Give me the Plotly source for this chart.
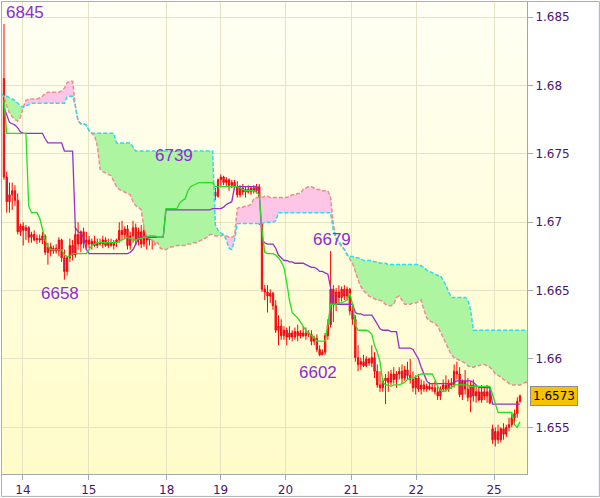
import plotly.graph_objects as go

# ---------------- data ----------------
day_tick_pos = [6.91, 30.91, 59.27, 78.91, 102.55, 126.55, 150.18, 178.55]
day_labels = ['14', '15', '18', '19', '20', '21', '22', '25']
price_ticks = [1.655, 1.660, 1.665, 1.670, 1.675, 1.680, 1.685]
price_labels = ['1.655', '1.66', '1.665', '1.67', '1.675', '1.68', '1.685']

open_ = [1.6805, 1.6733, 1.6715, 1.6720, 1.6723, 1.6716, 1.6693, 1.6697, 1.6694, 1.6696,
         1.6689, 1.6691, 1.6687, 1.6688, 1.6687, 1.6690, 1.6678, 1.6682, 1.6679, 1.6681,
         1.6679, 1.6687, 1.6674, 1.6664, 1.6674, 1.6683, 1.6676, 1.6691, 1.6684, 1.6693,
         1.6685, 1.6687, 1.6684, 1.6686, 1.6683, 1.6685, 1.6684, 1.6687, 1.6683, 1.6685,
         1.6683, 1.6685, 1.6687, 1.6694, 1.6691, 1.6695, 1.6683, 1.6690, 1.6696, 1.6687,
         1.6693, 1.6684, 1.6694, 1.6687, 1.6695, 1.6687, 1.6690, 1.6696, 1.6690, 1.6694,
         1.6731, 1.6716, 1.6719, 1.6716, 1.6719, 1.6718, 1.6729, 1.6730, 1.6732, 1.6729,
         1.6735, 1.6731, 1.6734, 1.6726, 1.6729, 1.6726, 1.6730, 1.6722, 1.6719, 1.6731,
         1.6733, 1.6729, 1.6731, 1.6727, 1.6729, 1.6726, 1.6720, 1.6725, 1.6722, 1.6724,
         1.6722, 1.6725, 1.6723, 1.6726, 1.6700, 1.6651, 1.6649, 1.6646, 1.6648, 1.6639,
         1.6621, 1.6624, 1.6617, 1.6621, 1.6616, 1.6619, 1.6616, 1.6620, 1.6617, 1.6619,
         1.6617, 1.6619, 1.6618, 1.6613, 1.6615, 1.6607, 1.6603, 1.6605, 1.6617, 1.6625,
         1.6651, 1.6640, 1.6649, 1.6645, 1.6651, 1.6646, 1.6651, 1.6635, 1.6629, 1.6601,
         1.6596, 1.6598, 1.6595, 1.6600, 1.6597, 1.6601, 1.6591, 1.6581, 1.6579, 1.6584,
         1.6586, 1.6583, 1.6589, 1.6585, 1.6589, 1.6591, 1.6586, 1.6592, 1.6588, 1.6585,
         1.6579, 1.6586, 1.6578, 1.6581, 1.6578, 1.6580, 1.6578, 1.6579, 1.6576, 1.6573,
         1.6578, 1.6581, 1.6578, 1.6582, 1.6581, 1.6591, 1.6589, 1.6574, 1.6584, 1.6578,
         1.6572, 1.6581, 1.6573, 1.6576, 1.6570, 1.6576, 1.6573, 1.6576, 1.6549, 1.6541,
         1.6547, 1.6541, 1.6549, 1.6545, 1.6550, 1.6552, 1.6557, 1.6560, 1.6569]

high = [1.6845, 1.6737, 1.6729, 1.6729, 1.6727, 1.6721, 1.6699, 1.6700, 1.6698, 1.6697,
        1.6693, 1.6694, 1.6691, 1.6691, 1.6693, 1.6691, 1.6685, 1.6685, 1.6683, 1.6684,
        1.6689, 1.6688, 1.6680, 1.6675, 1.6688, 1.6687, 1.6697, 1.6700, 1.6694, 1.6696,
        1.6693, 1.6690, 1.6688, 1.6690, 1.6688, 1.6688, 1.6690, 1.6689, 1.6688, 1.6688,
        1.6687, 1.6688, 1.6700, 1.6701, 1.6697, 1.6698, 1.6693, 1.6701, 1.6699, 1.6696,
        1.6698, 1.6700, 1.6700, 1.6700, 1.6699, 1.6696, 1.6698, 1.6699, 1.6697, 1.6739,
        1.6734, 1.6723, 1.6725, 1.6722, 1.6723, 1.6731, 1.6733, 1.6734, 1.6737, 1.6738,
        1.6738, 1.6737, 1.6737, 1.6734, 1.6735, 1.6737, 1.6734, 1.6725, 1.6732, 1.6735,
        1.6734, 1.6733, 1.6732, 1.6731, 1.6731, 1.6730, 1.6727, 1.6728, 1.6726, 1.6727,
        1.6726, 1.6727, 1.6728, 1.6728, 1.6701, 1.6654, 1.6654, 1.6651, 1.6649, 1.6643,
        1.6632, 1.6629, 1.6624, 1.6623, 1.6624, 1.6621, 1.6623, 1.6625, 1.6621, 1.6624,
        1.6623, 1.6621, 1.6621, 1.6617, 1.6618, 1.6610, 1.6607, 1.6619, 1.6629, 1.6679,
        1.6654, 1.6652, 1.6654, 1.6653, 1.6654, 1.6653, 1.6652, 1.6640, 1.6632, 1.6610,
        1.6601, 1.6603, 1.6602, 1.6601, 1.6610, 1.6605, 1.6596, 1.6591, 1.6586, 1.6589,
        1.6591, 1.6592, 1.6594, 1.6591, 1.6594, 1.6596, 1.6595, 1.6598, 1.6600, 1.6591,
        1.6588, 1.6589, 1.6585, 1.6584, 1.6582, 1.6583, 1.6582, 1.6584, 1.6581, 1.6580,
        1.6585, 1.6588, 1.6585, 1.6586, 1.6596, 1.6598, 1.6594, 1.6585, 1.6592, 1.6586,
        1.6584, 1.6585, 1.6581, 1.6579, 1.6581, 1.6579, 1.6581, 1.6579, 1.6552, 1.6550,
        1.6552, 1.6550, 1.6553, 1.6552, 1.6557, 1.6560, 1.6563, 1.6572, 1.6574]

low = [1.6731, 1.6707, 1.6707, 1.6709, 1.6712, 1.6691, 1.6690, 1.6683, 1.6687, 1.6685,
       1.6685, 1.6686, 1.6684, 1.6685, 1.6684, 1.6676, 1.6669, 1.6675, 1.6677, 1.6677,
       1.6675, 1.6671, 1.6658, 1.6661, 1.6671, 1.6672, 1.6674, 1.6680, 1.6678, 1.6681,
       1.6680, 1.6681, 1.6680, 1.6682, 1.6681, 1.6683, 1.6681, 1.6682, 1.6681, 1.6682,
       1.6680, 1.6682, 1.6685, 1.6687, 1.6688, 1.6680, 1.6680, 1.6685, 1.6683, 1.6683,
       1.6681, 1.6682, 1.6680, 1.6683, 1.6680, 1.6683, 1.6685, 1.6687, 1.6687, 1.6693,
       1.6714, 1.6712, 1.6714, 1.6713, 1.6715, 1.6716, 1.6723, 1.6726, 1.6728, 1.6727,
       1.6729, 1.6726, 1.6723, 1.6722, 1.6723, 1.6716, 1.6712, 1.6716, 1.6718, 1.6726,
       1.6727, 1.6726, 1.6723, 1.6725, 1.6724, 1.6718, 1.6718, 1.6720, 1.6718, 1.6721,
       1.6720, 1.6721, 1.6721, 1.6698, 1.6649, 1.6643, 1.6634, 1.6641, 1.6636, 1.6619,
       1.6610, 1.6614, 1.6614, 1.6610, 1.6614, 1.6613, 1.6614, 1.6613, 1.6615, 1.6616,
       1.6614, 1.6616, 1.6610, 1.6610, 1.6605, 1.6602, 1.6603, 1.6603, 1.6614, 1.6623,
       1.6627, 1.6635, 1.6640, 1.6642, 1.6643, 1.6643, 1.6632, 1.6625, 1.6598, 1.6591,
       1.6592, 1.6594, 1.6594, 1.6595, 1.6594, 1.6586, 1.6579, 1.6576, 1.6576, 1.6567,
       1.6576, 1.6581, 1.6582, 1.6579, 1.6585, 1.6582, 1.6584, 1.6585, 1.6582, 1.6576,
       1.6574, 1.6576, 1.6574, 1.6576, 1.6576, 1.6577, 1.6576, 1.6574, 1.6570, 1.6570,
       1.6576, 1.6576, 1.6576, 1.6578, 1.6579, 1.6585, 1.6572, 1.6570, 1.6574, 1.6569,
       1.6561, 1.6569, 1.6568, 1.6569, 1.6568, 1.6570, 1.6568, 1.6567, 1.6538, 1.6536,
       1.6538, 1.6539, 1.6541, 1.6543, 1.6547, 1.6550, 1.6552, 1.6557, 1.6568]

close = [1.6733, 1.6715, 1.6720, 1.6723, 1.6716, 1.6693, 1.6697, 1.6694, 1.6696, 1.6689,
         1.6691, 1.6687, 1.6688, 1.6687, 1.6690, 1.6678, 1.6682, 1.6679, 1.6681, 1.6679,
         1.6687, 1.6674, 1.6664, 1.6674, 1.6683, 1.6676, 1.6691, 1.6684, 1.6693, 1.6685,
         1.6687, 1.6684, 1.6686, 1.6683, 1.6685, 1.6684, 1.6687, 1.6683, 1.6685, 1.6683,
         1.6685, 1.6687, 1.6694, 1.6691, 1.6695, 1.6683, 1.6690, 1.6696, 1.6687, 1.6693,
         1.6684, 1.6694, 1.6687, 1.6695, 1.6687, 1.6690, 1.6696, 1.6690, 1.6694, 1.6731,
         1.6716, 1.6719, 1.6716, 1.6719, 1.6718, 1.6729, 1.6730, 1.6732, 1.6729, 1.6735,
         1.6731, 1.6734, 1.6726, 1.6729, 1.6726, 1.6730, 1.6722, 1.6719, 1.6731, 1.6733,
         1.6729, 1.6731, 1.6727, 1.6729, 1.6726, 1.6720, 1.6725, 1.6722, 1.6724, 1.6722,
         1.6725, 1.6723, 1.6726, 1.6700, 1.6651, 1.6649, 1.6646, 1.6648, 1.6639, 1.6621,
         1.6624, 1.6617, 1.6621, 1.6616, 1.6619, 1.6616, 1.6620, 1.6617, 1.6619, 1.6617,
         1.6619, 1.6618, 1.6613, 1.6615, 1.6607, 1.6603, 1.6605, 1.6617, 1.6625, 1.6651,
         1.6640, 1.6649, 1.6645, 1.6651, 1.6646, 1.6651, 1.6635, 1.6629, 1.6601, 1.6596,
         1.6598, 1.6595, 1.6600, 1.6597, 1.6601, 1.6591, 1.6581, 1.6579, 1.6584, 1.6586,
         1.6583, 1.6589, 1.6585, 1.6589, 1.6591, 1.6586, 1.6592, 1.6588, 1.6585, 1.6579,
         1.6586, 1.6578, 1.6581, 1.6578, 1.6580, 1.6578, 1.6579, 1.6576, 1.6573, 1.6578,
         1.6581, 1.6578, 1.6582, 1.6581, 1.6591, 1.6589, 1.6574, 1.6584, 1.6578, 1.6572,
         1.6581, 1.6573, 1.6576, 1.6570, 1.6576, 1.6573, 1.6576, 1.6568, 1.6541, 1.6547,
         1.6541, 1.6549, 1.6545, 1.6550, 1.6552, 1.6557, 1.6560, 1.6569, 1.6573]

tenkan = [1.6789, 1.6765, 1.6765, 1.6765, 1.6765, 1.6765, 1.6765, 1.6765, 1.6765, 1.6712,
          1.6707, 1.6707, 1.6707, 1.6703, 1.6694, 1.6687, 1.6682, 1.6680, 1.6680, 1.6680,
          1.6680, 1.6680, 1.6676, 1.6675, 1.6675, 1.6677, 1.6677, 1.6677, 1.6677, 1.6677,
          1.6677, 1.6680, 1.6683, 1.6684, 1.6685, 1.6685, 1.6685, 1.6685, 1.6685, 1.6685,
          1.6685, 1.6685, 1.6686, 1.6687, 1.6688, 1.6689, 1.6688, 1.6687, 1.6687, 1.6688,
          1.6688, 1.6689, 1.6689, 1.6690, 1.6690, 1.6690, 1.6689, 1.6689, 1.6689, 1.6710,
          1.6710, 1.6710, 1.6710, 1.6710, 1.6714, 1.6716, 1.6717, 1.6723, 1.6726, 1.6727,
          1.6728, 1.6729, 1.6729, 1.6729, 1.6729, 1.6729, 1.6729, 1.6726, 1.6726, 1.6726,
          1.6726, 1.6726, 1.6726, 1.6726, 1.6726, 1.6726, 1.6725, 1.6724, 1.6723, 1.6723,
          1.6723, 1.6723, 1.6722, 1.6720, 1.6694, 1.6678, 1.6677, 1.6677, 1.6677, 1.6676,
          1.6674, 1.6671, 1.6667, 1.6656, 1.6643, 1.6634, 1.6632, 1.6630, 1.6627, 1.6624,
          1.6621, 1.6619, 1.6617, 1.6616, 1.6613, 1.6613, 1.6613, 1.6613, 1.6625, 1.6640,
          1.6640, 1.6640, 1.6641, 1.6641, 1.6642, 1.6643, 1.6648, 1.6640, 1.6625, 1.6621,
          1.6621, 1.6621, 1.6621, 1.6620, 1.6618, 1.6610, 1.6605, 1.6598, 1.6583, 1.6581,
          1.6581, 1.6580, 1.6581, 1.6581, 1.6581, 1.6582, 1.6583, 1.6585, 1.6586, 1.6586,
          1.6587, 1.6588, 1.6589, 1.6589, 1.6589, 1.6589, 1.6589, 1.6585, 1.6580, 1.6577,
          1.6576, 1.6577, 1.6578, 1.6579, 1.6581, 1.6581, 1.6581, 1.6581, 1.6581, 1.6581,
          1.6580, 1.6580, 1.6580, 1.6580, 1.6580, 1.6580, 1.6580, 1.6580, 1.6574, 1.6568,
          1.6561, 1.6561, 1.6561, 1.6561, 1.6561, 1.6561, 1.6552, 1.6550, 1.6554]

kijun = [1.6784, 1.6778, 1.6773, 1.6772, 1.6771, 1.6769, 1.6766, 1.6765, 1.6765, 1.6765,
         1.6765, 1.6765, 1.6765, 1.6765, 1.6765, 1.6761, 1.6758, 1.6758, 1.6758, 1.6758,
         1.6758, 1.6758, 1.6752, 1.6752, 1.6752, 1.6752, 1.6696, 1.6693, 1.6692, 1.6689,
         1.6680, 1.6677, 1.6677, 1.6677, 1.6677, 1.6677, 1.6677, 1.6677, 1.6677, 1.6677,
         1.6677, 1.6677, 1.6677, 1.6677, 1.6677, 1.6677, 1.6678, 1.6680, 1.6684, 1.6688,
         1.6689, 1.6689, 1.6689, 1.6689, 1.6689, 1.6689, 1.6689, 1.6689, 1.6689, 1.6709,
         1.6709, 1.6709, 1.6709, 1.6709, 1.6709, 1.6709, 1.6709, 1.6709, 1.6709, 1.6709,
         1.6709, 1.6709, 1.6709, 1.6709, 1.6709, 1.6709, 1.6710, 1.6710, 1.6710, 1.6710,
         1.6711, 1.6713, 1.6714, 1.6715, 1.6726, 1.6726, 1.6726, 1.6726, 1.6726, 1.6726,
         1.6726, 1.6726, 1.6726, 1.6723, 1.6687, 1.6685, 1.6684, 1.6684, 1.6684, 1.6681,
         1.6676, 1.6674, 1.6672, 1.6672, 1.6671, 1.6671, 1.6670, 1.6670, 1.6670, 1.6670,
         1.6669, 1.6668, 1.6667, 1.6667, 1.6666, 1.6664, 1.6664, 1.6663, 1.6662, 1.6652,
         1.6640, 1.6640, 1.6640, 1.6640, 1.6640, 1.6640, 1.6640, 1.6640, 1.6634, 1.6633,
         1.6633, 1.6632, 1.6632, 1.6632, 1.6632, 1.6629, 1.6625, 1.6622, 1.6621, 1.6621,
         1.6621, 1.6620, 1.6620, 1.6620, 1.6608, 1.6608, 1.6608, 1.6608, 1.6608, 1.6607,
         1.6603, 1.6600, 1.6594, 1.6589, 1.6584, 1.6582, 1.6582, 1.6582, 1.6582, 1.6582,
         1.6582, 1.6582, 1.6582, 1.6582, 1.6583, 1.6584, 1.6584, 1.6584, 1.6584, 1.6584,
         1.6584, 1.6583, 1.6581, 1.6579, 1.6579, 1.6579, 1.6579, 1.6579, 1.6567, 1.6567,
         1.6567, 1.6567, 1.6567, 1.6567, 1.6567, 1.6567, 1.6567, 1.6567, 1.6567]

cloud_first_bar = -1
senkou_a = [1.6794, 1.6792, 1.6792, 1.6791, 1.6790, 1.6789, 1.6787, 1.6785, 1.6784, 1.6785,
            1.6786, 1.6787, 1.6787, 1.6787, 1.6787, 1.6787, 1.6787, 1.6787, 1.6787, 1.6787,
            1.6787, 1.6787, 1.6787, 1.6787, 1.6792, 1.6792, 1.6792, 1.6785, 1.6774, 1.6772,
            1.6772, 1.6771, 1.6767, 1.6765, 1.6765, 1.6765, 1.6765, 1.6765, 1.6765, 1.6765,
            1.6765, 1.6765, 1.6758, 1.6758, 1.6758, 1.6758, 1.6758, 1.6758, 1.6755, 1.6752,
            1.6752, 1.6752, 1.6752, 1.6752, 1.6752, 1.6752, 1.6752, 1.6752, 1.6752, 1.6752,
            1.6752, 1.6752, 1.6752, 1.6752, 1.6752, 1.6752, 1.6752, 1.6752, 1.6752, 1.6752,
            1.6752, 1.6752, 1.6752, 1.6752, 1.6752, 1.6752, 1.6752, 1.6752, 1.6698, 1.6694,
            1.6692, 1.6691, 1.6687, 1.6681, 1.6680, 1.6687, 1.6699, 1.6699, 1.6699, 1.6699,
            1.6699, 1.6699, 1.6699, 1.6699, 1.6699, 1.6699, 1.6700, 1.6700, 1.6700, 1.6700,
            1.6701, 1.6707, 1.6707, 1.6707, 1.6707, 1.6707, 1.6707, 1.6707, 1.6707, 1.6707,
            1.6707, 1.6707, 1.6707, 1.6707, 1.6707, 1.6707, 1.6707, 1.6707, 1.6707, 1.6707,
            1.6707, 1.6694, 1.6688, 1.6686, 1.6683, 1.6680, 1.6676, 1.6675, 1.6675, 1.6674,
            1.6674, 1.6673, 1.6672, 1.6672, 1.6672, 1.6672, 1.6671, 1.6671, 1.6670, 1.6670,
            1.6670, 1.6669, 1.6669, 1.6669, 1.6669, 1.6669, 1.6669, 1.6669, 1.6669, 1.6669,
            1.6669, 1.6669, 1.6669, 1.6668, 1.6667, 1.6665, 1.6664, 1.6663, 1.6662, 1.6661,
            1.6661, 1.6658, 1.6654, 1.6649, 1.6645, 1.6645, 1.6645, 1.6645, 1.6645, 1.6645,
            1.6643, 1.6636, 1.6621, 1.6621, 1.6621, 1.6621, 1.6621, 1.6621, 1.6621, 1.6621,
            1.6621, 1.6621, 1.6621, 1.6621, 1.6621, 1.6621, 1.6621, 1.6621, 1.6621, 1.6621,
            1.6621, 1.6621, 1.6621]

senkou_b = [1.6794, 1.6792, 1.6785, 1.6780, 1.6777, 1.6775, 1.6774, 1.6777, 1.6784, 1.6789,
            1.6790, 1.6790, 1.6790, 1.6790, 1.6791, 1.6792, 1.6794, 1.6795, 1.6795, 1.6795,
            1.6795, 1.6795, 1.6796, 1.6798, 1.6802, 1.6803, 1.6803, 1.6785, 1.6774, 1.6772,
            1.6772, 1.6771, 1.6767, 1.6765, 1.6763, 1.6756, 1.6739, 1.6737, 1.6736, 1.6735,
            1.6734, 1.6730, 1.6726, 1.6724, 1.6723, 1.6722, 1.6721, 1.6720, 1.6715, 1.6712,
            1.6711, 1.6709, 1.6696, 1.6690, 1.6688, 1.6687, 1.6685, 1.6685, 1.6681, 1.6680,
            1.6680, 1.6681, 1.6682, 1.6682, 1.6683, 1.6683, 1.6683, 1.6683, 1.6684, 1.6684,
            1.6685, 1.6685, 1.6686, 1.6687, 1.6688, 1.6689, 1.6691, 1.6691, 1.6690, 1.6690,
            1.6690, 1.6691, 1.6690, 1.6689, 1.6689, 1.6690, 1.6710, 1.6711, 1.6711, 1.6712,
            1.6712, 1.6713, 1.6717, 1.6718, 1.6718, 1.6718, 1.6719, 1.6719, 1.6718, 1.6718,
            1.6718, 1.6718, 1.6718, 1.6718, 1.6718, 1.6719, 1.6720, 1.6720, 1.6721, 1.6721,
            1.6724, 1.6725, 1.6726, 1.6726, 1.6725, 1.6724, 1.6724, 1.6723, 1.6723, 1.6723,
            1.6718, 1.6698, 1.6688, 1.6685, 1.6682, 1.6680, 1.6676, 1.6673, 1.6670, 1.6663,
            1.6658, 1.6653, 1.6650, 1.6648, 1.6646, 1.6645, 1.6644, 1.6643, 1.6643, 1.6642,
            1.6640, 1.6639, 1.6639, 1.6640, 1.6645, 1.6646, 1.6643, 1.6640, 1.6640, 1.6640,
            1.6641, 1.6641, 1.6642, 1.6643, 1.6636, 1.6630, 1.6628, 1.6627, 1.6626, 1.6624,
            1.6620, 1.6616, 1.6611, 1.6607, 1.6603, 1.6601, 1.6600, 1.6599, 1.6598, 1.6597,
            1.6595, 1.6594, 1.6594, 1.6595, 1.6595, 1.6596, 1.6596, 1.6595, 1.6594, 1.6592,
            1.6589, 1.6588, 1.6587, 1.6585, 1.6584, 1.6582, 1.6581, 1.6581, 1.6581, 1.6581,
            1.6582, 1.6583, 1.6583]

extreme_text = ['6845', '6739', '6658', '6679', '6602']
extreme_x = [0.0, 62.0, 20.5, 119.5, 114.4]
extreme_y = [1.6853, 1.6749, 1.6648, 1.6687, 1.6590]
last_price = 1.6573

# ---------------- figure ----------------
n = len(close)
bars = list(range(n))
cloud_x = [cloud_first_bar + k for k in range(len(senkou_a))]

fig = go.Figure()

# cloud fills, split where the two spans cross
pts = []
for k in range(len(cloud_x)):
    a, b = senkou_a[k], senkou_b[k]
    pts.append((cloud_x[k], a, b))
    if k < len(cloud_x) - 1:
        d0 = a - b
        d1 = senkou_a[k + 1] - senkou_b[k + 1]
        if d0 * d1 < 0:
            t = d0 / (d0 - d1)
            yc = a + t * (senkou_a[k + 1] - a)
            pts.append((cloud_x[k] + t, yc, yc))

runs = []
cur, cur_sign = [], 0
for p in pts:
    s = (p[1] > p[2]) - (p[1] < p[2])
    if s == 0 or cur_sign == 0 or s == cur_sign:
        if s != 0:
            cur_sign = s
        cur.append(p)
    else:
        runs.append((cur_sign, cur))
        tail = [cur[-1]] if cur and cur[-1][1] == cur[-1][2] else []
        cur = tail + [p]
        cur_sign = s
if cur:
    runs.append((cur_sign, cur))

for sign, run in runs:
    if sign == 0 or len(run) < 2:
        continue
    xs = [p[0] for p in run]
    ya = [p[1] for p in run]
    yb = [p[2] for p in run]
    fig.add_trace(go.Scatter(
        x=xs + xs[::-1], y=ya + yb[::-1], mode='lines', fill='toself',
        fillcolor='#aef5a2' if sign > 0 else '#fdc6e6',
        line=dict(width=0), hoverinfo='skip', showlegend=False))

fig.add_trace(go.Scatter(x=cloud_x, y=senkou_b, mode='lines',
                         line=dict(color='#f08c8c', width=1.5, dash='4px,2px'),
                         hoverinfo='skip', showlegend=False))
fig.add_trace(go.Scatter(x=cloud_x, y=senkou_a, mode='lines',
                         line=dict(color='#33d8ee', width=1.5, dash='4px,2px'),
                         hoverinfo='skip', showlegend=False))

fig.add_trace(go.Candlestick(
    x=bars, open=open_, high=high, low=low, close=close,
    increasing=dict(line=dict(color='#ff0000', width=1), fillcolor='#7a48a8'),
    decreasing=dict(line=dict(color='#ff0000', width=1), fillcolor='#7a48a8'),
    whiskerwidth=0, showlegend=False, hoverinfo='skip'))

fig.add_trace(go.Scatter(x=bars, y=kijun, mode='lines',
                         line=dict(color='#9430cc', width=1.3),
                         hoverinfo='skip', showlegend=False))
fig.add_trace(go.Scatter(x=bars, y=tenkan, mode='lines',
                         line=dict(color='#22e022', width=1.3),
                         hoverinfo='skip', showlegend=False))

# background gradient
shapes = []
nb = 60
top = (255, 255, 244)
bot = (255, 252, 200)
for k in range(nb):
    f = (k + 0.5) / nb
    c = tuple(round(top[j] + (bot[j] - top[j]) * f) for j in range(3))
    shapes.append(dict(type='rect', xref='paper', yref='paper', x0=0, x1=1,
                       y0=1 - (k + 1) / nb, y1=1 - k / nb, layer='below',
                       line=dict(width=0), fillcolor='rgb(%d,%d,%d)' % c))
# outer frame
W, H, L, R, T, B = 600, 498, 1, 73, 1, 23
pw, ph = W - L - R, H - T - B
shapes.append(dict(type='rect', xref='paper', yref='paper',
                   x0=(0.5 - L) / pw, x1=(W - 0.5 - L) / pw,
                   y0=-(B - 0.5) / ph, y1=1 + (T - 0.5) / ph,
                   line=dict(color='#a8b0b8', width=1), fillcolor='rgba(0,0,0,0)',
                   layer='above'))

annotations = []
for i, txt in enumerate(extreme_text):
    annotations.append(dict(x=extreme_x[i], y=extreme_y[i], xref='x', yref='y',
                            text=txt, showarrow=False,
                            xanchor='left' if i == 0 else 'center', yanchor='middle',
                            font=dict(family='Liberation Sans', size=17, color='#8a2ed2')))
annotations.append(dict(x=1, y=last_price, xref='paper', yref='y', text='1.6573',
                        showarrow=False, xanchor='left', yanchor='middle', xshift=3,
                        bgcolor='#f7c200', bordercolor='#8c8c8c', borderwidth=1, borderpad=2,
                        font=dict(family='DejaVu Sans', size=12, color='#000000')))

axis_font = dict(family='DejaVu Sans', size=12, color='#4a1470')
fig.update_layout(
    width=W, height=H, margin=dict(l=L, r=R, t=T, b=B),
    paper_bgcolor='white', plot_bgcolor='#fffde8',
    shapes=shapes, annotations=annotations, hovermode=False, showlegend=False,
    xaxis=dict(range=[-0.727, 190.545], tickvals=day_tick_pos, ticktext=day_labels,
               showgrid=True, gridcolor='#e6e2c4', gridwidth=1, zeroline=False,
               showline=True, linecolor='#a0a8b0', mirror=True,
               ticks='outside', ticklen=5, tickcolor='#a0a8b0',
               tickfont=axis_font, rangeslider=dict(visible=False), fixedrange=True),
    yaxis=dict(range=[1.65159, 1.68610], side='right', tickvals=price_ticks,
               ticktext=price_labels, showgrid=True, gridcolor='#e6e2c4', gridwidth=1,
               zeroline=False, showline=True, linecolor='#a0a8b0', mirror=True,
               ticks='outside', ticklen=5, tickcolor='#a0a8b0', tickfont=axis_font,
               fixedrange=True),
)

fig.write_html("out.html", config={'displayModeBar': False},
               post_script="document.body.style.margin='0';document.body.style.overflow='hidden';")
